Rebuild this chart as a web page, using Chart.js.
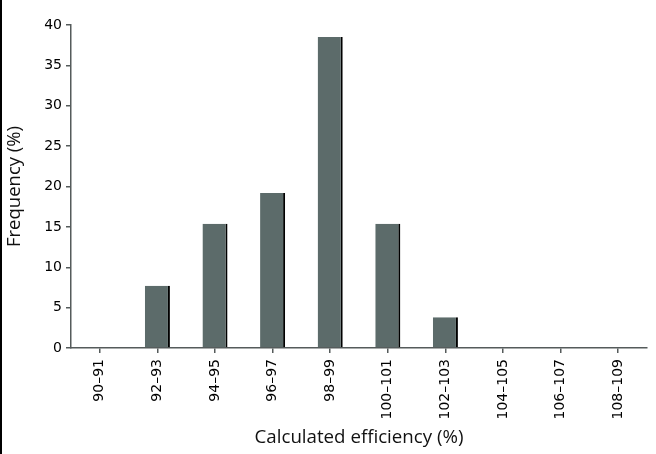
<!DOCTYPE html>
<html>
<head>
<meta charset="utf-8">
<script src="https://cdn.jsdelivr.net/npm/chart.js@4.4.1/dist/chart.umd.min.js"></script>
<style>
  html, body { margin: 0; padding: 0; background: #fff; }
  #wrap { position: relative; width: 656px; height: 454px; }
  #edge { position: absolute; left: 0; top: 0; width: 2px; height: 454px; background: #000; z-index: 2; }
  canvas { position: absolute; left: 0; top: 0; }
</style>
</head>
<body>
<div id="wrap">
  <div id="edge"></div>
  <canvas id="c" width="656" height="454"></canvas>
</div>
<script>
const categories = ["90\u201391", "92\u201393", "94\u201395", "96\u201397", "98\u201399", "100\u2013101", "102\u2013103", "104\u2013105", "106\u2013107", "108\u2013109"];
const frequency = [0, 7.7, 15.4, 19.2, 38.5, 15.4, 3.8, 0, 0, 0];
const yTicks = [0, 5, 10, 15, 20, 25, 30, 35, 40];

const axisColor = '#555b5b';
const titleFont = '"Open Sans", "Noto Sans", sans-serif';
const tickFont = '"DejaVu Sans", "Open Sans", sans-serif';

new Chart(document.getElementById('c'), {
  type: 'bar',
  data: {
    labels: categories,
    datasets: [{
      data: frequency,
      backgroundColor: '#5c6b6a',
      borderColor: '#000000',
      borderWidth: { top: 0, right: 2, bottom: 0, left: 0 },
      borderSkipped: false,
      categoryPercentage: 1.0,
      barPercentage: 0.435
    }]
  },
  options: {
    responsive: false,
    animation: false,
    devicePixelRatio: 1,
    layout: { padding: { top: 25, right: 9, bottom: 0, left: 0 } },
    plugins: { legend: { display: false }, tooltip: { enabled: false } },
    scales: {
      x: {
        offset: true,
        grid: { display: true, offset: false, drawOnChartArea: false, drawTicks: true, tickLength: 5, color: axisColor, lineWidth: 1.5 },
        border: { display: true, color: axisColor, width: 1.5 },
        ticks: { color: '#000', font: { family: tickFont, size: 14 }, minRotation: 90, maxRotation: 90, padding: 6, autoSkip: false },
        title: { display: true, text: 'Calculated efficiency (%)', color: '#111', font: { family: titleFont, size: 18.7 }, padding: { top: 0, bottom: 5 } },
        afterFit: s => { s.height = 106; }
      },
      y: {
        min: 0, max: 40,
        afterBuildTicks: s => { s.ticks = yTicks.map(v => ({ value: v })); },
        grid: { display: true, drawOnChartArea: false, drawTicks: true, tickLength: 5, color: axisColor, lineWidth: 1.5 },
        border: { display: true, color: axisColor, width: 1.5 },
        ticks: { color: '#000', font: { family: tickFont, size: 14 }, padding: 4 },
        title: { display: true, text: 'Frequency (%)', color: '#111', font: { family: titleFont, size: 18.5 }, padding: { top: 4, bottom: 4 } },
        afterFit: s => { s.width = 71; }
      }
    }
  }
});
</script>
</body>
</html>
